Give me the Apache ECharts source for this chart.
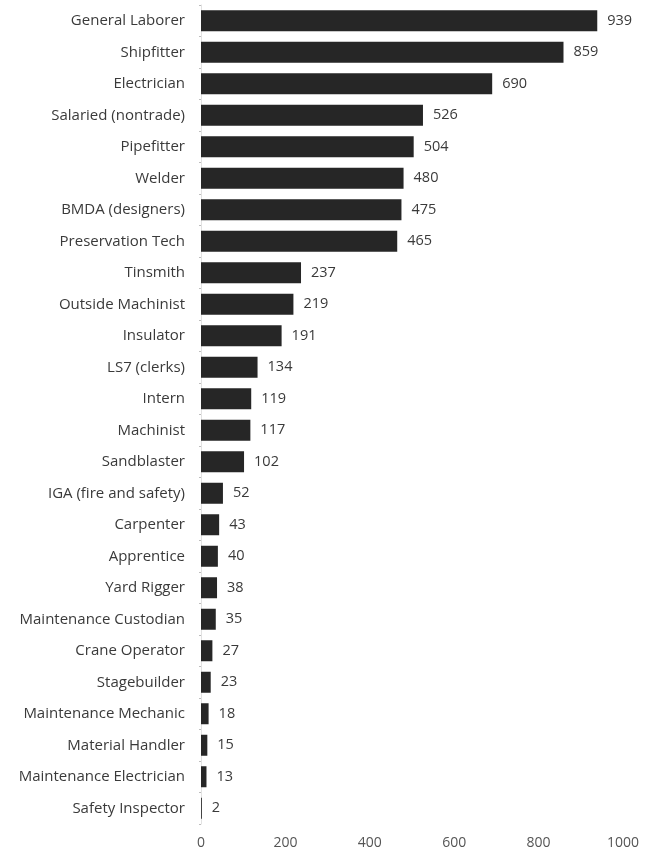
<!DOCTYPE html>
<html>
<head>
<meta charset="utf-8">
<script src="https://cdn.jsdelivr.net/npm/echarts@6/dist/echarts.min.js"></script>
<style>
  html, body { margin: 0; padding: 0; background: #fff; }
  #chart { width: 656px; height: 853px; }
</style>
</head>
<body>
<div id="chart"></div>
<script>
// Headcount by trade, listed from largest to smallest
const trades = [
  'General Laborer', 'Shipfitter', 'Electrician', 'Salaried (nontrade)', 'Pipefitter',
  'Welder', 'BMDA (designers)', 'Preservation Tech', 'Tinsmith', 'Outside Machinist',
  'Insulator', 'LS7 (clerks)', 'Intern', 'Machinist', 'Sandblaster',
  'IGA (fire and safety)', 'Carpenter', 'Apprentice', 'Yard Rigger', 'Maintenance Custodian',
  'Crane Operator', 'Stagebuilder', 'Maintenance Mechanic', 'Material Handler',
  'Maintenance Electrician', 'Safety Inspector'
];
const counts = [
  939, 859, 690, 526, 504,
  480, 475, 465, 237, 219,
  191, 134, 119, 117, 102,
  52, 43, 40, 38, 35,
  27, 23, 18, 15,
  13, 2
];
const axisTicks = [0, 200, 400, 600, 800, 1000];

const font = '"Open Sans", "Noto Sans", sans-serif';
const chart = echarts.init(document.getElementById('chart'));
chart.setOption({
  animation: false,
  grid: { left: 201, right: 33, top: 5, bottom: 29, containLabel: false },
  xAxis: {
    type: 'value',
    min: axisTicks[0],
    max: axisTicks[axisTicks.length - 1],
    interval: axisTicks[1] - axisTicks[0],
    axisLine: { show: false },
    axisTick: { show: false },
    splitLine: { show: false },
    axisLabel: {
      margin: 12,
      color: '#555',
      fontFamily: font,
      fontSize: 14,
      formatter: v => String(v)
    }
  },
  yAxis: {
    type: 'category',
    inverse: true,
    data: trades,
    axisLine: { show: true, lineStyle: { color: '#e2e2e2', width: 1 } },
    axisTick: { show: true, length: 2, lineStyle: { color: '#bdbdbd' } },
    axisLabel: { margin: 16, color: '#3a3a3a', fontFamily: font, fontSize: 15 }
  },
  series: [{
    type: 'bar',
    data: counts,
    barWidth: 21,
    itemStyle: { color: '#262626' },
    label: {
      show: true,
      position: 'right',
      distance: 10,
      color: '#3a3a3a',
      fontFamily: font,
      fontSize: 14.5
    }
  }]
});
</script>
</body>
</html>
